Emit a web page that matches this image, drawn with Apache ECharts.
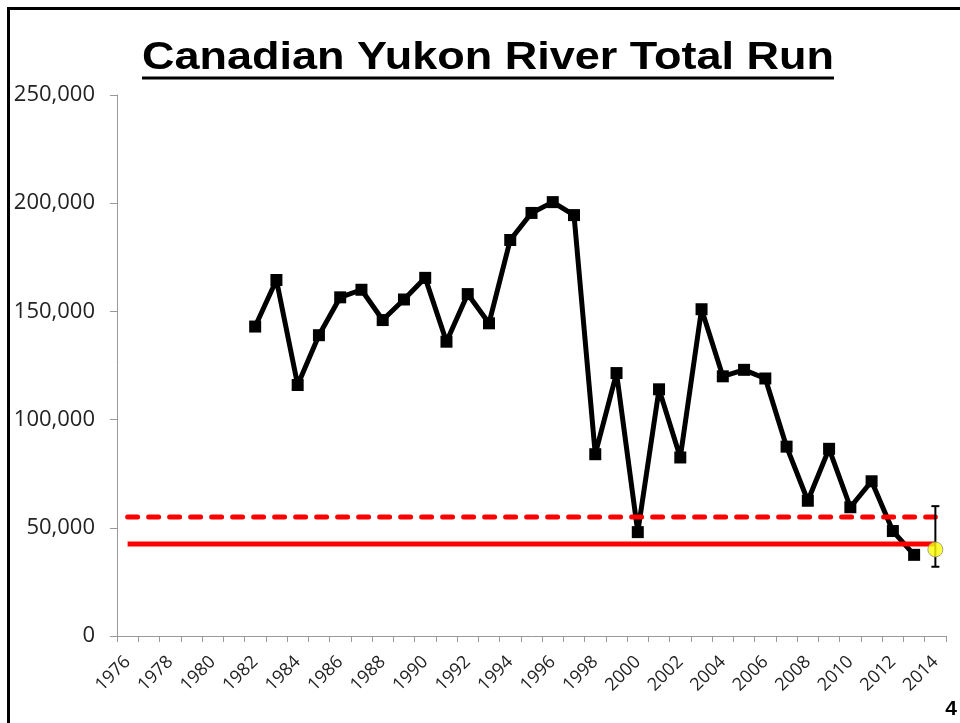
<!DOCTYPE html>
<html lang="en">
<head>
<meta charset="UTF-8">
<title>Canadian Yukon River Total Run</title>
<script src="https://cdn.jsdelivr.net/npm/echarts@6/dist/echarts.min.js"></script>
<style>
    html, body { margin: 0; padding: 0; background: #fff; }
    #main { width: 960px; height: 723px; }
</style>
</head>
<body>
<div id="main"></div>
<script>
    // years on the category axis
    var years = ['1976', '1977', '1978', '1979', '1980', '1981', '1982', '1983', '1984', '1985',
        '1986', '1987', '1988', '1989', '1990', '1991', '1992', '1993', '1994', '1995',
        '1996', '1997', '1998', '1999', '2000', '2001', '2002', '2003', '2004', '2005',
        '2006', '2007', '2008', '2009', '2010', '2011', '2012', '2013', '2014'];

    // total run estimates (fish), no data before 1982
    var totalRun = [null, null, null, null, null, null,
        143000, 164500, 116000, 139000, 156500, 160000, 146000, 155500, 165500, 136000,
        158000, 144500, 183000, 195500, 200500, 194500, 84000, 121500, 48000, 114000,
        82500, 151000, 120000, 123000, 119000, 87500, 62500, 86500, 59500, 71500,
        48500, 37500, null];

    // escapement goal range, drawn across the whole period
    var goalLow = 42500;
    var goalHigh = 55000;
    var goalSpan = ['1976', '2014'];

    // 2014 preseason outlook with its range
    var outlookYear = '2014';
    var outlookMid = 40000;
    var outlookRange = [32000, 60000];

    var myChart = echarts.init(document.getElementById('main'));

    // title is drawn as graphic text so it can be stretched to the slide width
    var titleText = 'Canadian Yukon River Total Run';
    var titleFont = 'bold 39px "Liberation Sans"';
    var ctx = document.createElement('canvas').getContext('2d');
    ctx.font = titleFont;
    var titleW = ctx.measureText(titleText).width;
    var titleLeft = 142, titleRight = 834;
    var sx = (titleRight - titleLeft) / titleW;

    var option = {
        animation: false,
        backgroundColor: '#fff',
        grid: {
            left: 117,
            right: 14,
            top: 95,
            bottom: 87,
            containLabel: false,
            outerBoundsMode: 'none'
        },
        xAxis: {
            type: 'category',
            data: years,
            boundaryGap: true,
            axisLine: { lineStyle: { color: '#999', width: 1 } },
            axisTick: { show: true, interval: 0, length: 6, lineStyle: { color: '#999' } },
            axisLabel: {
                interval: 1,
                rotate: 45,
                margin: 23,
                fontSize: 18,
                fontFamily: 'Open Sans',
                color: '#222'
            },
            splitLine: { show: false }
        },
        yAxis: {
            type: 'value',
            min: 0,
            max: 250000,
            interval: 50000,
            axisLine: { show: true, lineStyle: { color: '#999', width: 1 } },
            axisTick: { show: true, length: 7, lineStyle: { color: '#999' } },
            axisLabel: {
                margin: 22,
                fontSize: 22,
                fontFamily: 'Open Sans',
                color: '#222',
                formatter: function (v) { return v.toLocaleString('en-US'); }
            },
            splitLine: { show: false }
        },
        series: [
            {
                name: 'Total run',
                type: 'line',
                data: totalRun,
                symbol: 'rect',
                symbolSize: 12,
                connectNulls: false,
                itemStyle: { color: '#000' },
                lineStyle: { color: '#000', width: 5 },
                z: 2
            },
            {
                name: 'Goal low',
                type: 'line',
                data: [[goalSpan[0], goalLow], [goalSpan[1], goalLow]],
                showSymbol: false,
                symbol: 'none',
                lineStyle: { color: '#ff0000', width: 5 },
                z: 3
            },
            {
                name: 'Goal high',
                type: 'line',
                data: [[goalSpan[0], goalHigh], [goalSpan[1], goalHigh]],
                showSymbol: false,
                symbol: 'none',
                lineStyle: { color: '#ff0000', width: 5, type: [10, 11], cap: 'round' },
                z: 3
            },
            {
                name: 'Outlook range',
                type: 'custom',
                data: [[outlookYear, outlookRange[0], outlookRange[1]]],
                renderItem: function (params, api) {
                    var lo = api.coord([api.value(0), api.value(1)]);
                    var hi = api.coord([api.value(0), api.value(2)]);
                    var w = 4;
                    var st = { stroke: '#000', lineWidth: 2 };
                    return {
                        type: 'group',
                        children: [
                            { type: 'line', shape: { x1: lo[0], y1: lo[1], x2: hi[0], y2: hi[1] }, style: st },
                            { type: 'line', shape: { x1: lo[0] - w, y1: lo[1], x2: lo[0] + w, y2: lo[1] }, style: st },
                            { type: 'line', shape: { x1: hi[0] - w, y1: hi[1], x2: hi[0] + w, y2: hi[1] }, style: st }
                        ]
                    };
                },
                z: 4
            },
            {
                name: 'Outlook',
                type: 'scatter',
                data: [[outlookYear, outlookMid]],
                symbol: 'circle',
                symbolSize: 15,
                itemStyle: { color: '#ffff00', borderColor: '#8c8c8c', borderWidth: 1 },
                z: 5
            }
        ],
        graphic: [
            {
                type: 'rect',
                shape: { x: 8.5, y: 8.5, width: 980, height: 760 },
                style: { fill: 'none', stroke: '#000', lineWidth: 3 },
                silent: true
            },
            {
                type: 'text',
                x: titleLeft,
                y: 58,
                scaleX: sx,
                style: {
                    text: titleText,
                    font: titleFont,
                    fill: '#000',
                    textAlign: 'left',
                    textVerticalAlign: 'middle'
                }
            },
            {
                type: 'line',
                shape: { x1: titleLeft, y1: 78, x2: titleRight, y2: 78 },
                style: { stroke: '#000', lineWidth: 3 }
            },
            {
                type: 'text',
                x: 957,
                y: 709,
                style: {
                    text: '4',
                    font: 'bold 21px "Liberation Sans"',
                    fill: '#000',
                    textAlign: 'right',
                    textVerticalAlign: 'middle'
                }
            }
        ]
    };

    myChart.setOption(option);
</script>
</body>
</html>
